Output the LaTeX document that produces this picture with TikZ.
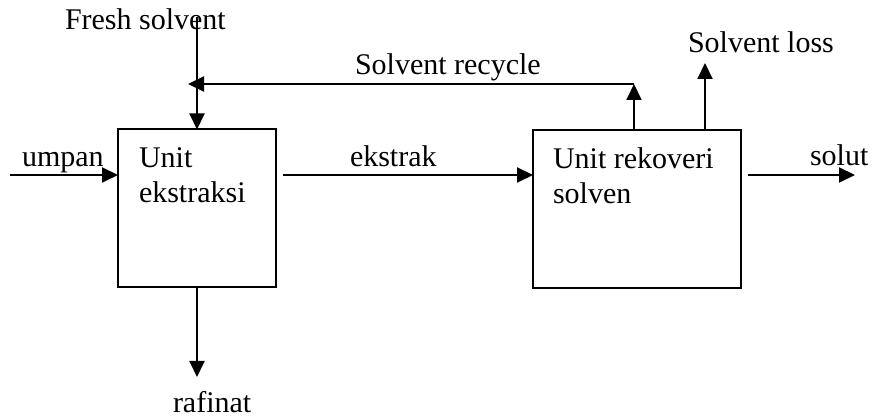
\documentclass[tikz,border=0pt]{standalone}
\usepackage{fontspec}
\setmainfont{Liberation Serif}
\usetikzlibrary{arrows.meta}
\begin{document}
\begin{tikzpicture}[x=1pt,y=-1pt,
  every node/.style={inner sep=0pt,outer sep=0pt},
  unitbox/.style={draw,line width=2pt,minimum width=#1,minimum height=158pt},
  flow/.style={line width=2pt,-{Triangle[length=16pt,width=15pt]}},
  lbl/.style={font=\fontsize{30}{34}\selectfont,anchor=base west},
  boxtext/.style={font=\fontsize{30}{35}\selectfont,anchor=north west,align=left}]
\useasboundingbox (0,0) rectangle (873,419);

% process units
\node[unitbox=158pt] (ext) at (197,208.5) {};
\node[unitbox=208pt] (rec) at (637,209) {};
\node[boxtext] (exttxt) at (139,147.5) {Unit\\ekstraksi};
\node[boxtext] (rectxt) at (553,147.5) {Unit rekoveri\\solven};

% stream end points
\coordinate (fsin) at (197,17);
\coordinate (feed) at (10,175);
\coordinate (ekout) at (283,175);
\coordinate (solout) at (748,175);
\coordinate (solend) at (855,175);
\coordinate (rafend) at (197,377);
\coordinate (rcup) at (634,84);
\coordinate (rcend) at (188,84);
\coordinate (lossend) at (705,63);

% streams
\draw[flow] (fsin) -- (ext.north);
\draw[flow] (feed) -- (feed -| ext.west);
\draw[flow] (ekout) -- (ekout -| rec.west);
\draw[flow] (solout) -- (solend);
\draw[flow] (ext.south) -- (rafend);
\draw[flow] (rcup |- rec.north) -- (rcup);
\draw[flow] (rcup) -- (rcend);
\draw[flow] (lossend |- rec.north) -- (lossend);

% stream labels
\node[lbl] (lfs) at (65,30) {Fresh solvent};
\node[lbl] (lrc) at (355,75) {Solvent recycle};
\node[lbl] (lloss) at (688,53) {Solvent loss};
\node[lbl] (lfeed) at (22,167) {umpan};
\node[lbl] (lek) at (350,167) {ekstrak};
\node[lbl] (lsol) at (810,166) {solut};
\node[lbl] (lraf) at (173,413) {rafinat};
\end{tikzpicture}
\end{document}
